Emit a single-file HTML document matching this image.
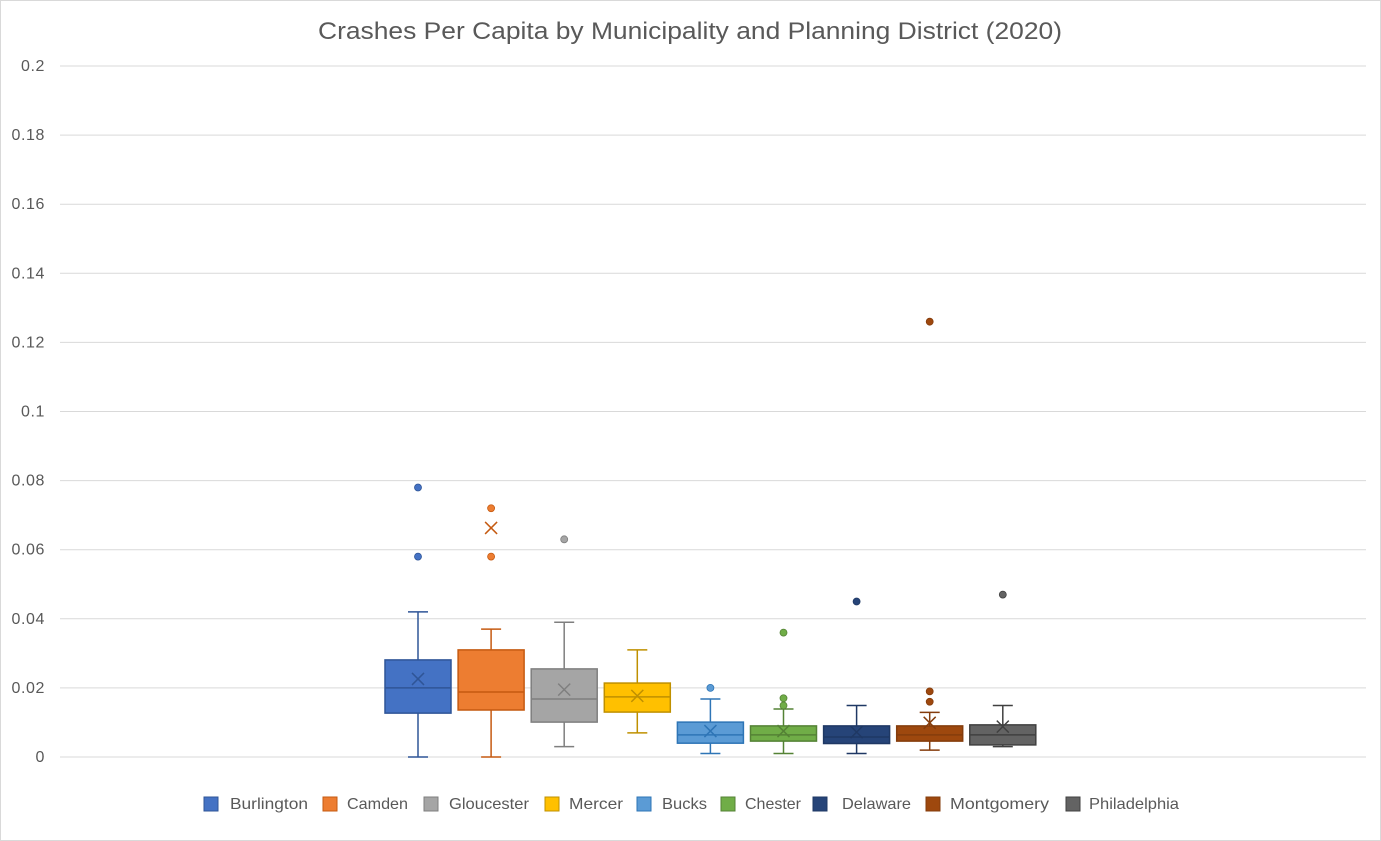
<!DOCTYPE html>
<html><head><meta charset="utf-8"><style>
body{margin:0;background:#fff;}
#wrap{position:relative;width:1381px;height:841px;overflow:hidden;font-family:"Liberation Sans",sans-serif;}
</style></head><body>
<div id="wrap">
<svg id="chart" width="1381" height="841"></svg>
</div>
<script>
const categories=["Burlington","Camden","Gloucester","Mercer","Bucks","Chester","Delaware","Montgomery","Philadelphia"];
const q1=[0.0127,0.0136,0.0101,0.013,0.004,0.0046,0.0039,0.0046,0.0035];
const q3=[0.0281,0.031,0.0255,0.0214,0.0101,0.009,0.009,0.009,0.0093];
const medians=[0.020,0.0188,0.0168,0.0174,0.0064,0.0064,0.0058,0.0064,0.0064];
const means=[0.0226,0.0663,0.0195,0.0177,0.0075,0.0075,0.0072,0.0099,0.0088];
const whiskerLow=[0,0,0.003,0.007,0.001,0.001,0.001,0.002,0.003];
const whiskerHigh=[0.042,0.037,0.039,0.031,0.0168,0.0139,0.0149,0.0129,0.0149];
const outliers=[[0.078,0.058],[0.072,0.058],[0.063],[],[0.020],[0.036,0.017,0.0149],[0.045],[0.126,0.019,0.016],[0.047]];
const yTicks=[0,0.02,0.04,0.06,0.08,0.1,0.12,0.14,0.16,0.18,0.2];
const yTickLabels=["0","0.02","0.04","0.06","0.08","0.1","0.12","0.14","0.16","0.18","0.2"];
const fills=["#4472C4","#ED7D31","#A5A5A5","#FFC000","#5B9BD5","#70AD47","#264478","#9E480E","#636363"];
const strokes=["#2F5597","#C55A11","#7F7F7F","#BF9000","#2E75B6","#548235","#1F3864","#843C0C","#404040"];
const legendSwatchX=[204,323,424,545,637,721,813,926,1066];
const legendTextX=[230,347,449,569,662,745,842,950,1089];
const legendTextW=[78,61,80,54,45,56,69,99,90];

const svg=document.getElementById('chart');
const NS="http://www.w3.org/2000/svg";
function el(t,a){const e=document.createElementNS(NS,t);for(const k in a)e.setAttribute(k,a[k]);svg.appendChild(e);return e;}
const y0=757,y1=66,left=60,right=1366;
function y(v){return y0-(v/0.2)*(y0-y1);}
function xc(i){return 418+i*73.1;}
const bw=66;

let r=el('rect',{x:0.5,y:0.5,width:1380,height:840,fill:'#fff',stroke:'#d9d9d9'});

let t=el('text',{x:318,y:39,'font-size':'24',fill:'#595959',textLength:744,lengthAdjust:'spacingAndGlyphs'});
t.textContent="Crashes Per Capita by Municipality and Planning District (2020)";


yTicks.forEach((v,i)=>{
  const g=el('line',{x1:left,x2:right,y1:y(v),y2:y(v),stroke:'#d9d9d9','stroke-width':1});
  
  const l=el('text',{x:45,y:y(v)+5,'text-anchor':'end','font-size':'16',fill:'#595959','letter-spacing':'0.6'});
  l.textContent=yTickLabels[i];
  
});

categories.forEach((c,i)=>{
  const x=xc(i),s=strokes[i];
  const w1=el('line',{x1:x,x2:x,y1:y(q3[i]),y2:y(whiskerHigh[i]),stroke:s,'stroke-width':1.5});
  
  const w2=el('line',{x1:x,x2:x,y1:y(q1[i]),y2:y(whiskerLow[i]),stroke:s,'stroke-width':1.5});
  
  [whiskerHigh[i],whiskerLow[i]].forEach(v=>{
    const cap=el('line',{x1:x-10,x2:x+10,y1:y(v),y2:y(v),stroke:s,'stroke-width':1.5});
    
  });
  const b=el('rect',{x:x-bw/2,y:y(q3[i]),width:bw,height:y(q1[i])-y(q3[i]),fill:fills[i],stroke:s,'stroke-width':1.5});
  
  const m=el('line',{x1:x-bw/2,x2:x+bw/2,y1:y(medians[i]),y2:y(medians[i]),stroke:s,'stroke-width':1.5});
  
  const my=y(means[i]);
  const mx=el('path',{d:`M${x-6},${my-6}L${x+6},${my+6}M${x+6},${my-6}L${x-6},${my+6}`,stroke:s,'stroke-width':1.5,fill:'none'});
  
  outliers[i].forEach(v=>{
    const o=el('circle',{cx:x,cy:y(v),r:3.5,fill:fills[i],stroke:s,'stroke-width':0.8});
    
  });
  const sw=el('rect',{x:legendSwatchX[i],y:797,width:14,height:14,fill:fills[i],stroke:s,'stroke-width':1});
  
  const lt=el('text',{x:legendTextX[i],y:809,'font-size':'16',fill:'#595959',textLength:legendTextW[i],lengthAdjust:'spacingAndGlyphs'});
  lt.textContent=c;
  
});
</script>
</body></html>
